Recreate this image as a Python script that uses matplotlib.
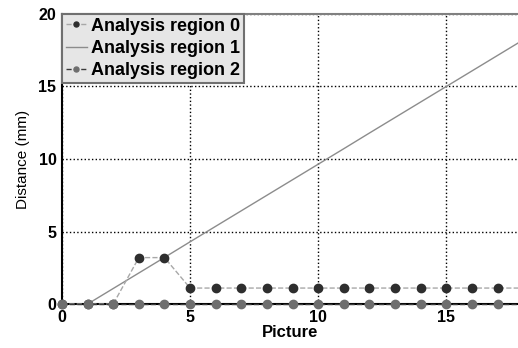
import matplotlib.pyplot as plt

plt.rcParams['font.family'] = ['Liberation Sans', 'DejaVu Sans']

pictures = list(range(0, 19))
region0 = [0, 0, 0, 3.2, 3.2, 1.1, 1.1, 1.1, 1.1, 1.1, 1.1, 1.1, 1.1, 1.1, 1.1, 1.1, 1.1, 1.1, 1.1]
region1 = [0, 0, 1.07, 2.14, 3.21, 4.29, 5.36, 6.43, 7.5, 8.57, 9.64, 10.71, 11.79,
           12.86, 13.93, 15.0, 16.07, 17.14, 18.21]
region2 = [0] * 19
labels = ['Analysis region 0', 'Analysis region 1', 'Analysis region 2']

fig = plt.figure(figsize=(5.18, 3.48), dpi=100)
ax = fig.add_axes([0.1197, 0.1264, 0.8803, 0.8334])

ax.plot(pictures, region0, '--o', color='#a8a8a8', mfc='#2e2e2e', mec='#2e2e2e',
        markersize=6, linewidth=1, label=labels[0], zorder=4, clip_on=False)
ax.plot(pictures, region1, '-', color='#8c8c8c', linewidth=1, label=labels[1], zorder=2)
ax.plot(pictures, region2, '--o', color='#3a3a3a', mfc='#6e6e6e', mec='#6e6e6e',
        markersize=6, linewidth=1, label=labels[2], zorder=4, clip_on=False)

ax.set_xlim(0, 17.8)
ax.set_ylim(0, 20)
ax.set_xticks([0, 5, 10, 15])
ax.set_yticks([0, 5, 10, 15, 20])
ax.grid(True, color='black', linestyle=':', linewidth=1)
ax.tick_params(labelsize=11.5, length=0, pad=4)
for t in ax.get_xticklabels() + ax.get_yticklabels():
    t.set_fontweight('bold')
ax.set_xlabel('Picture', fontsize=12, fontweight='bold', labelpad=0)
ax.set_ylabel('Distance (mm)', fontsize=11, labelpad=6)

ax.spines['left'].set_linewidth(1.5)
ax.spines['bottom'].set_linewidth(1.5)
ax.spines['top'].set_color('#808080')
ax.spines['top'].set_linewidth(1.5)
ax.spines['right'].set_visible(False)

leg = ax.legend(loc='upper left', prop={'size': 13, 'weight': 'bold'}, frameon=True,
                fancybox=False, borderaxespad=0, handlelength=1.2, handletextpad=0.2,
                borderpad=0.2, labelspacing=0.3, markerscale=0.6)
leg.get_frame().set_facecolor('#e6e6e6')
leg.get_frame().set_edgecolor('#707070')
leg.get_frame().set_alpha(1)
leg.get_frame().set_linewidth(1.5)
leg.set_zorder(5)

fig.savefig('out.png', dpi=100)
